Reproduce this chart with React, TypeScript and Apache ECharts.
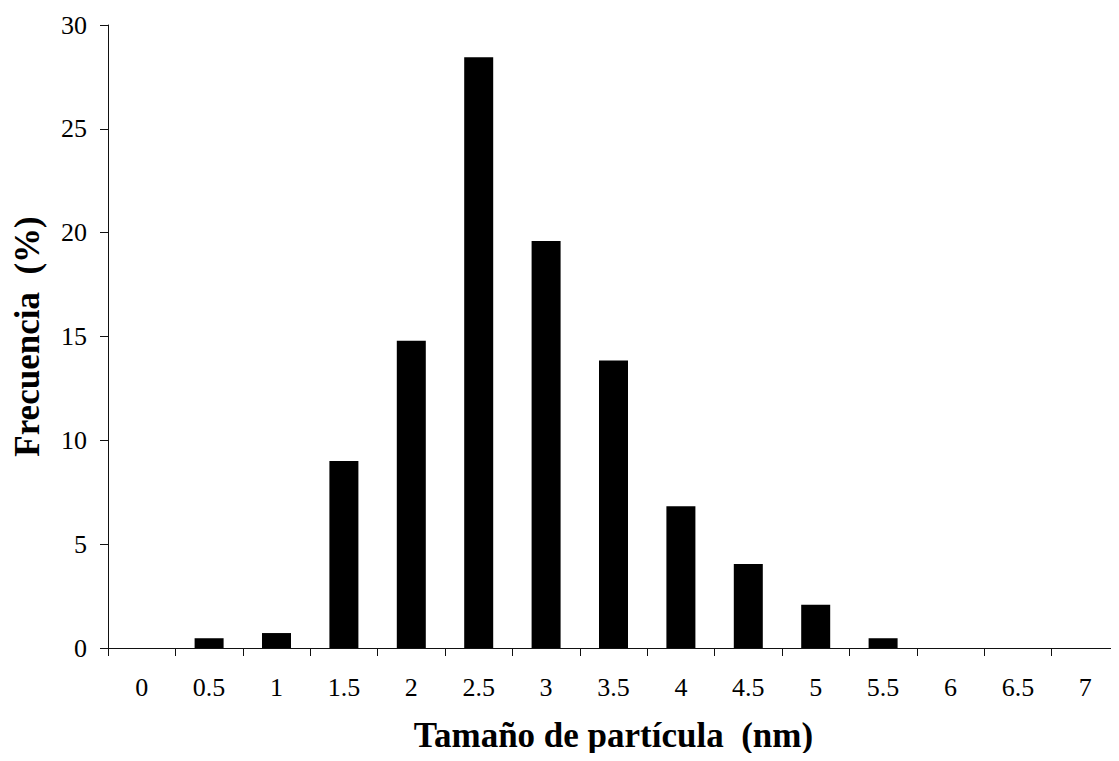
import React, { useEffect, useRef } from "react";
import * as echarts from "echarts";

const categories = ["0", "0.5", "1", "1.5", "2", "2.5", "3", "3.5", "4", "4.5", "5", "5.5", "6", "6.5", "7"];
const frequency = [0, 0.47, 0.72, 9.0, 14.8, 28.45, 19.6, 13.85, 6.82, 4.04, 2.08, 0.47, 0, 0, 0];
const yTitle = "Frecuencia  (%)";
const xTitle = "Tamaño de partícula  (nm)";

export default function App() {
  const ref = useRef<HTMLDivElement>(null);
  useEffect(() => {
    if (!ref.current) return;
    const chart = echarts.init(ref.current, null, { renderer: "svg" });
    const font = "'Liberation Serif', 'Times New Roman', serif";
    chart.setOption({
      animation: false,
      backgroundColor: "#ffffff",
      grid: { left: 108, top: 25, bottom: 113, right: -10, containLabel: false },
      xAxis: {
        type: "category",
        data: categories,
        boundaryGap: true,
        axisLine: { show: true, lineStyle: { color: "#111", width: 1 } },
        axisTick: { show: true, alignWithLabel: false, length: 8, lineStyle: { color: "#111" } },
        axisLabel: { color: "#000", fontFamily: font, fontSize: 26, margin: 26, interval: 0 },
        name: xTitle,
        nameLocation: "middle",
        nameGap: 70,
        nameTextStyle: { color: "#000", fontFamily: font, fontSize: 35, fontWeight: "bold" },
        splitLine: { show: false },
      },
      yAxis: {
        type: "value",
        min: 0,
        max: 30,
        interval: 5,
        axisLine: { show: true, lineStyle: { color: "#111", width: 1 } },
        axisTick: { show: true, length: 8, lineStyle: { color: "#111" } },
        axisLabel: { color: "#000", fontFamily: font, fontSize: 26, margin: 21 },
        name: yTitle,
        nameLocation: "middle",
        nameGap: 63,
        nameRotate: 90,
        nameTextStyle: { color: "#000", fontFamily: font, fontSize: 35, fontWeight: "bold" },
        splitLine: { show: false },
      },
      series: [
        {
          type: "bar",
          data: frequency,
          barWidth: 29,
          itemStyle: { color: "#000" },
        },
      ],
    });
    return () => chart.dispose();
  }, []);
  return <div ref={ref} style={{ width: 1119, height: 761, margin: -8 }} />;
}
